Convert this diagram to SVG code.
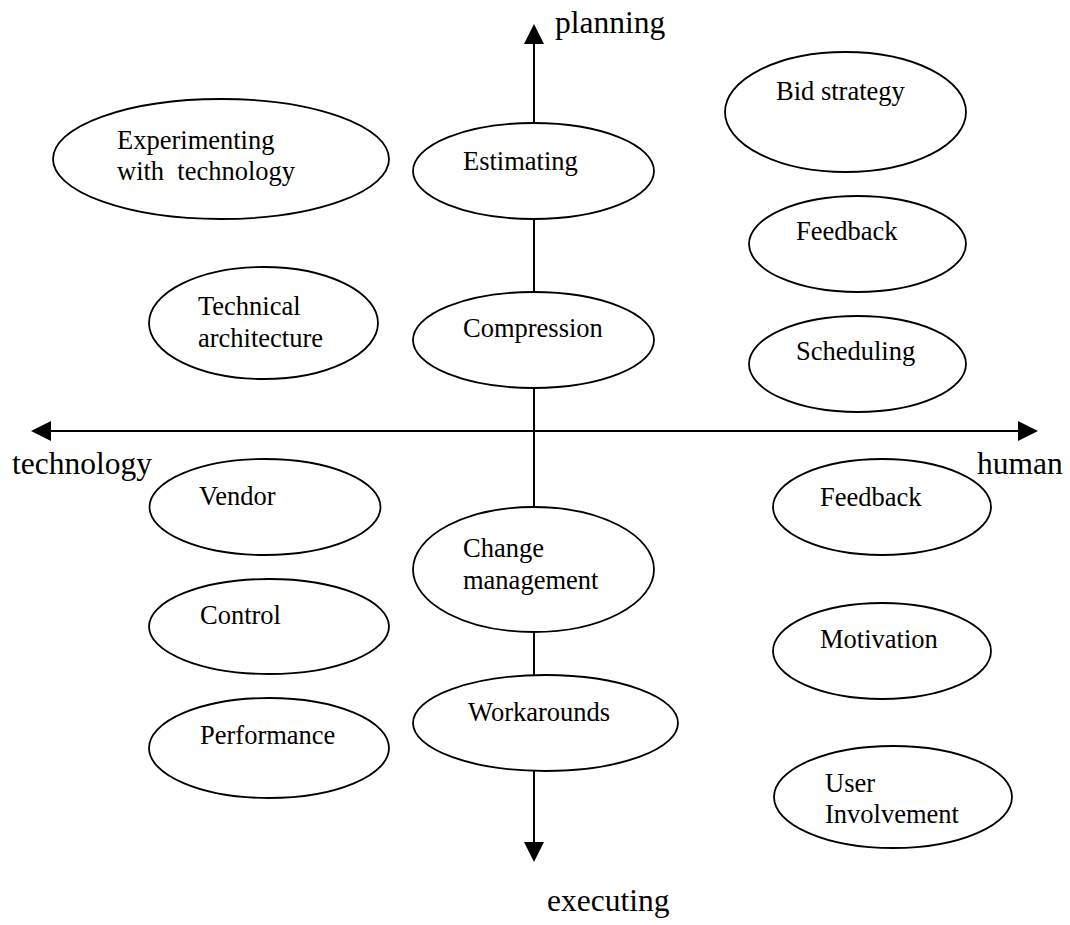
<svg xmlns="http://www.w3.org/2000/svg" width="1070" height="925" viewBox="0 0 1070 925">
  <style>
    .node ellipse { fill: #ffffff; stroke: #000000; stroke-width: 1.8; }
    .node text { font-family: "Liberation Serif", "Times New Roman", serif; font-size: 26.5px; fill: #000000; }
    .axis { stroke: #000000; stroke-width: 2; fill: none; }
    .axislabel { font-family: "Liberation Serif", "Times New Roman", serif; font-size: 31.5px; fill: #000000; }
    .head { fill: #000000; stroke: none; }
  </style>
  <rect x="0" y="0" width="1070" height="925" fill="#ffffff"/>

  <g id="connectors">
    <line class="axis" x1="534" y1="40" x2="534" y2="845"/>
    <polygon class="head" points="534,24 524,44 544,44"/>
    <polygon class="head" points="534,862 524,842 544,842"/>
    <line class="axis" x1="48" y1="431" x2="1020" y2="431"/>
    <polygon class="head" points="31,431 51,421 51,441"/>
    <polygon class="head" points="1038,431 1018,421 1018,441"/>
  </g>

  <g id="axis-labels">
    <text class="axislabel" x="555" y="33">planning</text>
    <text class="axislabel" x="547" y="911">executing</text>
    <text class="axislabel" x="12" y="474">technology</text>
    <text class="axislabel" x="977" y="474">human</text>
  </g>

  <g id="node-experimenting" class="node">
    <ellipse cx="221" cy="159" rx="168" ry="60"/>
    <text x="117" y="149">Experimenting</text>
    <text x="117" y="180" xml:space="preserve">with  technology</text>
  </g>
  <g id="node-technical" class="node">
    <ellipse cx="263.5" cy="323" rx="114.5" ry="56"/>
    <text x="198" y="315">Technical</text>
    <text x="198" y="347">architecture</text>
  </g>
  <g id="node-estimating" class="node">
    <ellipse cx="533.5" cy="171" rx="120.5" ry="48"/>
    <text x="463" y="170">Estimating</text>
  </g>
  <g id="node-compression" class="node">
    <ellipse cx="533.5" cy="340" rx="120.5" ry="48"/>
    <text x="463" y="337">Compression</text>
  </g>
  <g id="node-bid" class="node">
    <ellipse cx="845.5" cy="112" rx="120.5" ry="60"/>
    <text x="776" y="100">Bid strategy</text>
  </g>
  <g id="node-feedback1" class="node">
    <ellipse cx="857.5" cy="244" rx="108.5" ry="48"/>
    <text x="796" y="240">Feedback</text>
  </g>
  <g id="node-scheduling" class="node">
    <ellipse cx="857.5" cy="364" rx="108.5" ry="48"/>
    <text x="796" y="360">Scheduling</text>
  </g>
  <g id="node-vendor" class="node">
    <ellipse cx="265" cy="507" rx="115.5" ry="48"/>
    <text x="199" y="505">Vendor</text>
  </g>
  <g id="node-control" class="node">
    <ellipse cx="269" cy="626.5" rx="120" ry="47.5"/>
    <text x="200" y="624">Control</text>
  </g>
  <g id="node-performance" class="node">
    <ellipse cx="269" cy="748" rx="120" ry="50"/>
    <text x="200" y="744">Performance</text>
  </g>
  <g id="node-change" class="node">
    <ellipse cx="533.5" cy="569.5" rx="120.5" ry="62.5"/>
    <text x="463" y="557">Change</text>
    <text x="463" y="589">management</text>
  </g>
  <g id="node-workarounds" class="node">
    <ellipse cx="545.5" cy="723" rx="132.5" ry="48"/>
    <text x="468" y="721">Workarounds</text>
  </g>
  <g id="node-feedback2" class="node">
    <ellipse cx="882" cy="507" rx="109" ry="48"/>
    <text x="820" y="506">Feedback</text>
  </g>
  <g id="node-motivation" class="node">
    <ellipse cx="882" cy="651" rx="109" ry="48"/>
    <text x="820" y="648">Motivation</text>
  </g>
  <g id="node-user" class="node">
    <ellipse cx="893" cy="797" rx="119" ry="51"/>
    <text x="825" y="792">User</text>
    <text x="825" y="823">Involvement</text>
  </g>
</svg>
